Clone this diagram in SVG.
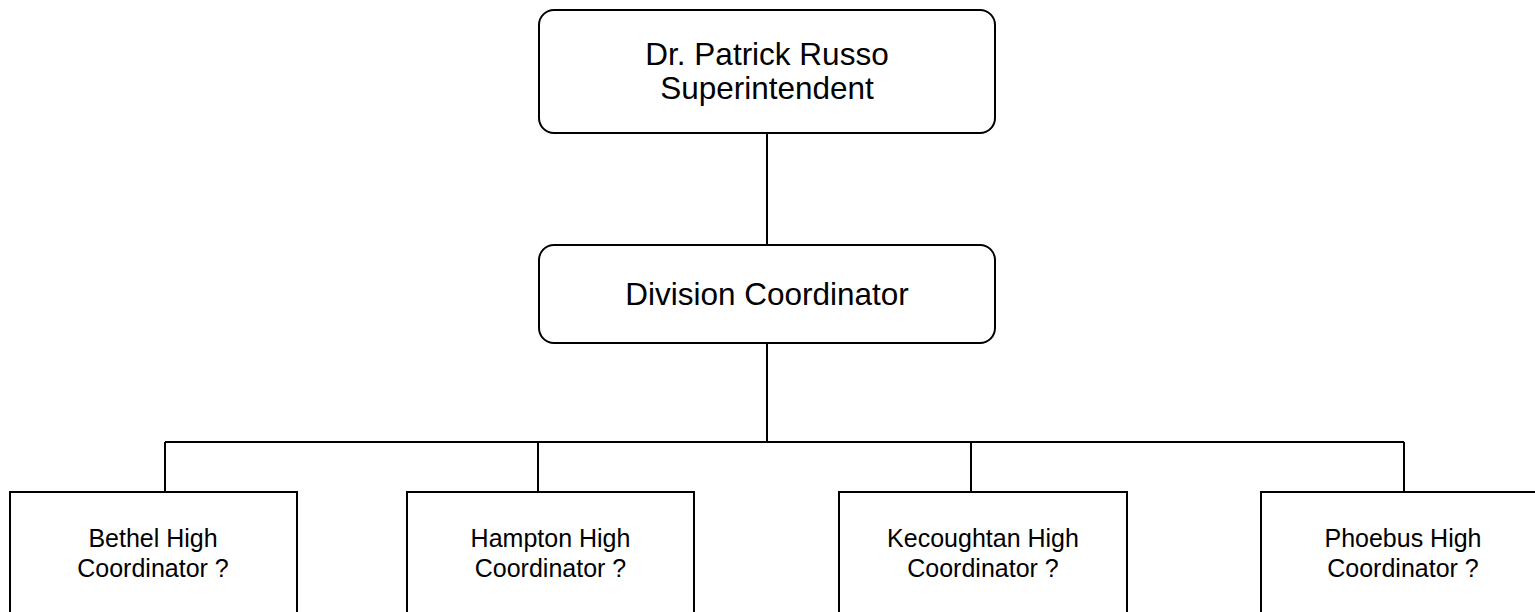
<svg xmlns="http://www.w3.org/2000/svg" width="1535" height="612" viewBox="0 0 1535 612">
<style>
.box{fill:#fff;stroke:#000;stroke-width:2}
.ln{fill:none;stroke:#000;stroke-width:2}
text{font-family:"Liberation Sans",Arial,sans-serif;fill:#000;text-anchor:middle}
.big{font-size:31.5px}
.sm{font-size:25px}
</style>
<rect width="1535" height="612" fill="#fff"/>
<g id="connectors">
<path class="ln" d="M767 133V245M767 343V442M165 442H1404M165 442V492M538 442V492M971 442V492M1404 442V492"/>
</g>
<g id="superintendent">
<rect class="box" x="539" y="10" width="456" height="123" rx="15"/>
<text class="big" x="767" y="65">Dr. Patrick Russo</text>
<text class="big" x="767" y="99">Superintendent</text>
</g>
<g id="division">
<rect class="box" x="539" y="245" width="456" height="98" rx="15"/>
<text class="big" x="767" y="305">Division Coordinator</text>
</g>
<g id="bethel">
<rect class="box" x="10" y="492" width="287" height="140"/>
<text class="sm" x="153" y="547">Bethel High</text>
<text class="sm" x="153" y="577">Coordinator ?</text>
</g>
<g id="hampton">
<rect class="box" x="407" y="492" width="287" height="140"/>
<text class="sm" x="550.5" y="547">Hampton High</text>
<text class="sm" x="550.5" y="577">Coordinator ?</text>
</g>
<g id="kecoughtan">
<rect class="box" x="839" y="492" width="288" height="140"/>
<text class="sm" x="983" y="547">Kecoughtan High</text>
<text class="sm" x="983" y="577">Coordinator ?</text>
</g>
<g id="phoebus">
<rect class="box" x="1261" y="492" width="287" height="140"/>
<text class="sm" x="1403" y="547">Phoebus High</text>
<text class="sm" x="1403" y="577">Coordinator ?</text>
</g>
</svg>
